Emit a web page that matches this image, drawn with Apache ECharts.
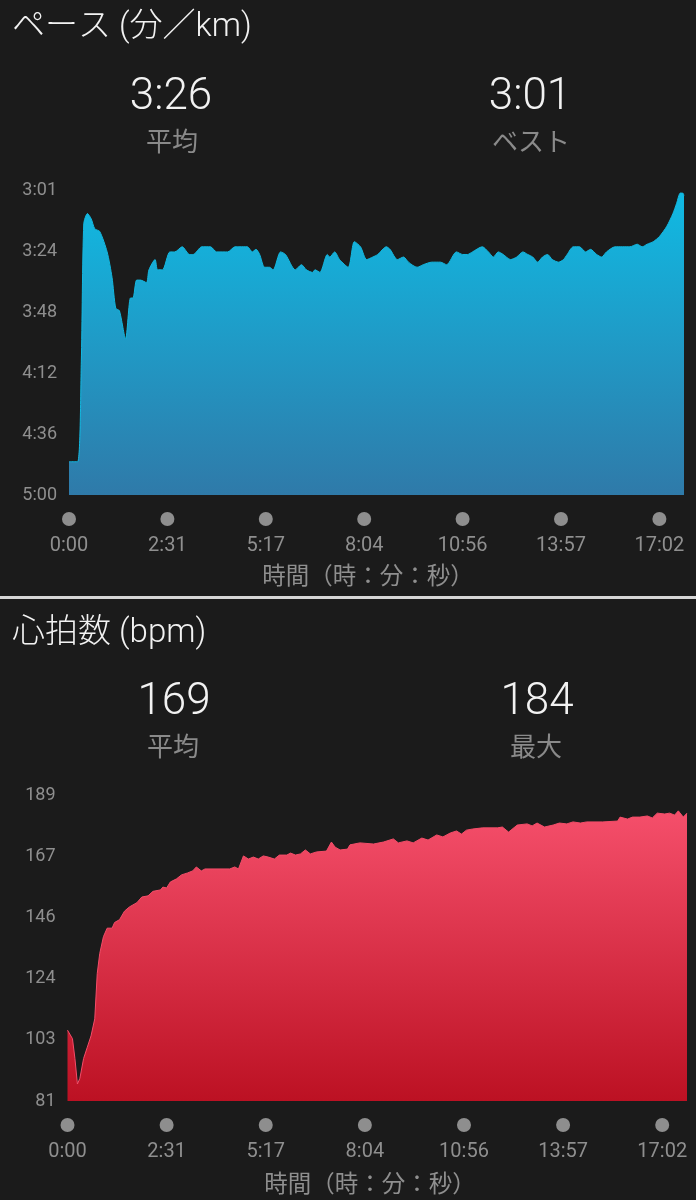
<!DOCTYPE html>
<html><head><meta charset="utf-8">
<script src="https://cdn.jsdelivr.net/npm/echarts@6/dist/echarts.min.js"></script>
<style>html,body{margin:0;padding:0;background:#1b1b1b}#c{width:696px;height:1200px}</style>
</head><body><div id="c"></div>
<script>
// ---- data ----
const paceKm = [0,0.07,0.10,0.12,0.15,0.18,0.21,0.25,0.31,0.35,0.38,0.41,0.46,0.50,0.52,0.55,0.58,0.63,0.65,0.70,0.72,0.76,0.82,0.86,0.92,0.98,1.01,1.08,1.15,1.20,1.29,1.35,1.39,1.45,1.49,1.52,1.55,1.59,1.63,1.66,1.72,1.76,1.84,1.89,1.93,1.98,2.00,2.04,2.10,2.12,2.16,2.20,2.27,2.32,2.37,2.42,2.47,2.51,2.58,2.61,2.67,2.72,2.76,2.83,2.88,2.95,3.02,3.07,3.15,3.20,3.24,3.28,3.36,3.41,3.45,3.49,3.53,3.59,3.64,3.69,3.73,3.77,3.81,3.85,3.89,3.93,3.98,4.02,4.05,4.10,4.15,4.20,4.24,4.29,4.33,4.37,4.44,4.50,4.56,4.62,4.66,4.70,4.75,4.80,4.86,4.91,4.94,4.97,4.99,5.00];
const paceSec = [287,287,248,194,190,192,196,197,205,215,227,228,239,223,223,216,216,217,212,208,212,212,205,205,203,206,206,203,203,205,205,203,203,203,205,204,206,211,211,212,205,206,212,210,212,213,212,213,206,207,205,208,211,201,203,208,207,206,203,204,208,207,209,211,210,209,209,210,205,206,206,205,203,205,207,205,206,208,207,205,206,207,209,207,206,208,209,208,206,203,203,205,204,206,207,205,203,203,203,202,203,202,201,199,195,190,186,182,182,183];
const hrKm = [0,0.04,0.06,0.08,0.10,0.13,0.16,0.19,0.22,0.24,0.26,0.29,0.32,0.36,0.38,0.42,0.46,0.50,0.56,0.60,0.65,0.69,0.75,0.77,0.80,0.83,0.88,0.92,0.97,1.01,1.04,1.08,1.11,1.31,1.35,1.38,1.42,1.46,1.50,1.54,1.58,1.62,1.67,1.71,1.77,1.80,1.84,1.88,1.92,1.96,2.01,2.09,2.13,2.16,2.20,2.26,2.28,2.36,2.47,2.55,2.63,2.67,2.74,2.79,2.86,2.91,2.98,3.03,3.09,3.14,3.18,3.22,3.27,3.35,3.47,3.51,3.56,3.63,3.71,3.75,3.79,3.85,3.92,3.97,4.03,4.08,4.14,4.19,4.32,4.44,4.46,4.52,4.56,4.62,4.68,4.72,4.76,4.82,4.86,4.90,4.93,4.97,5.00];
const hrBpm = [106,103,96,87,89,96,100,104,110,126,133,139,142,142,144,145,148,149.5,151,153,153.4,155,155.5,156.5,156.2,158.3,159.4,160.8,161.5,162.2,163.6,162.2,162.9,162.9,163.6,162.9,167.5,166.4,167.1,166.4,167.5,167.1,166.4,167.8,167.8,168.5,167.8,168.2,169.6,168.2,168.9,169.2,172.4,170.6,169.6,169.9,171.4,172.1,171.7,172.4,173.5,172.1,172.8,172.1,173.8,173.1,174.9,174.2,175.6,176.3,175.2,176.6,177.0,177.4,177.4,177.7,175.9,178.4,178.8,178.1,179.1,177.7,178.4,179.1,178.8,179.5,179.1,179.5,179.5,179.8,181.2,180.5,181.2,181.2,181.6,180.9,182.6,182.3,182.6,181.9,183.4,181.2,182.6];
const xTickKm = [0,0.8,1.6,2.4,3.2,4.0,4.8];
const xTickLabels = ['0:00','2:31','5:17','8:04','10:56','13:57','17:02'];
const paceTicks = [181,204.8,228.6,252.4,276.2,300];
const hrTicks = [81,102.6,124.2,145.8,167.4,189];

const FF = 'Roboto, "Noto Sans CJK JP", sans-serif';
const GREY = '#8f8f8f';

function xIdx(v){ for (let i=0;i<xTickKm.length;i++){ if (Math.abs(xTickKm[i]-v)<1e-6) return i; } return -1; }
function fmtPace(v){ const t=Math.floor(v+1e-6); const m=Math.floor(t/60), s=t%60; return m+':'+(s<10?'0':'')+s; }

function xAxisCfg(gi){
  return {
    type:'value', gridIndex:gi, min:0, max:5, interval:0.8,
    axisLine:{show:false}, axisTick:{show:false}, splitLine:{show:false},
    axisLabel:{
      margin:17, showMaxLabel:false,
      formatter:(v)=>{ const i=xIdx(v); return i<0?'':'{d| }\n{t|'+xTickLabels[i]+'}'; },
      rich:{
        d:{width:14,height:14,borderRadius:7,backgroundColor:'#8e8e8e',lineHeight:14},
        t:{fontSize:20,color:GREY,lineHeight:40,fontFamily:FF}
      }
    }
  };
}

function txt(x,y,text,font,fill,align){
  return {type:'text', x:x, y:y, silent:true,
    style:{text:text, font:font, fill:fill, align:align||'center', verticalAlign:'middle', textAlign:align||'center', textVerticalAlign:'middle'}};
}

const chart = echarts.init(document.getElementById('c'), null, {renderer:'canvas'});
chart.setOption({
  backgroundColor:'#1b1b1b',
  animation:false,
  grid:[
    {left:69, top:190.5, width:615, height:304.5, outerBoundsMode:'none'},
    {left:67.5, top:795, width:619.5, height:306, outerBoundsMode:'none'}
  ],
  xAxis:[xAxisCfg(0), xAxisCfg(1)],
  yAxis:[
    {type:'value', gridIndex:0, inverse:true, min:181, max:300,
     axisLine:{show:false}, axisTick:{show:false}, splitLine:{show:false},
     axisLabel:{customValues:paceTicks, formatter:fmtPace, color:GREY, fontSize:18, fontFamily:FF, margin:12}},
    {type:'value', gridIndex:1, min:81, max:189,
     axisLine:{show:false}, axisTick:{show:false}, splitLine:{show:false},
     axisLabel:{customValues:hrTicks, formatter:(v)=>String(Math.round(v)), color:GREY, fontSize:18, fontFamily:FF, margin:12}}
  ],
  series:[
    {type:'line', xAxisIndex:0, yAxisIndex:0, showSymbol:false, smooth:0.25,
     data:paceKm.map((k,i)=>[k,paceSec[i]]),
     lineStyle:{width:1,color:'#12b8e0'},
     areaStyle:{origin:'end', opacity:1, color:{type:'linear',x:0,y:0,x2:0,y2:1,colorStops:[{offset:0,color:'#10bae3'},{offset:1,color:'#2f7aa9'}]}}},
    {type:'line', xAxisIndex:1, yAxisIndex:1, showSymbol:false,
     data:hrKm.map((k,i)=>[k,hrBpm[i]]),
     lineStyle:{width:1,color:'#f44d69'},
     areaStyle:{origin:'start', opacity:1, color:{type:'linear',x:0,y:0,x2:0,y2:1,colorStops:[{offset:0,color:'#f54f6b'},{offset:1,color:'#bc1123'}]}}}
  ],
  graphic:[
    txt(12,28,'ペース (分／km)','300 33px '+FF,'#f2f2f2','left'),
    txt(171,98,'3:26','300 44px '+FF,'#f2f2f2'),
    txt(172,144,'平均','26px '+FF,'#8a8a8a'),
    txt(530,98,'3:01','300 44px '+FF,'#f2f2f2'),
    txt(531,144,'ベスト','26px '+FF,'#8a8a8a'),
    txt(368,578,'時間（時：分：秒）','23.5px '+FF,GREY),
    {type:'rect', shape:{x:0,y:596,width:696,height:3}, style:{fill:'#d6d6d6'}, silent:true},
    txt(12,634,'心拍数 (bpm)','300 33px '+FF,'#f2f2f2','left'),
    txt(174,703,'169','300 44px '+FF,'#f2f2f2'),
    txt(173,749,'平均','26px '+FF,'#8a8a8a'),
    txt(537,703,'184','300 44px '+FF,'#f2f2f2'),
    txt(536,749,'最大','26px '+FF,'#8a8a8a'),
    txt(370,1186,'時間（時：分：秒）','23.5px '+FF,GREY)
  ]
});
</script></body></html>
